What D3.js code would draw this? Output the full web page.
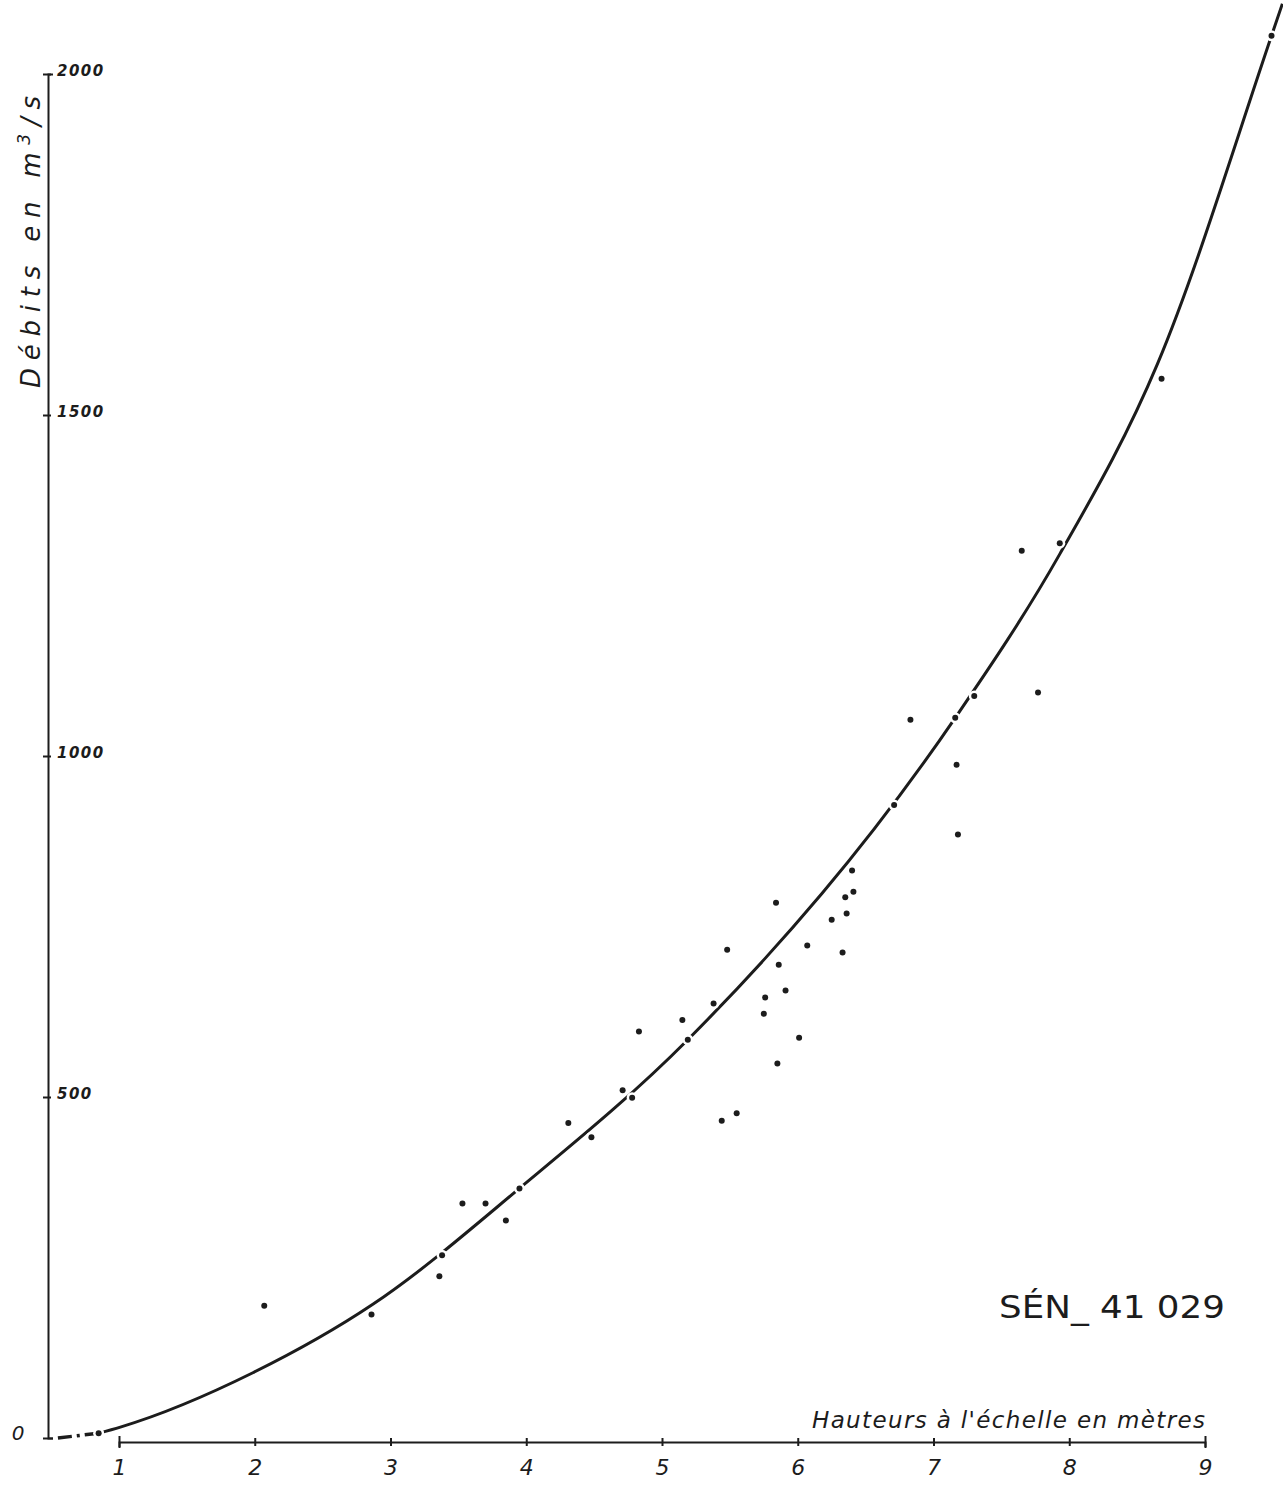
<!DOCTYPE html>
<html>
<head>
<meta charset="utf-8">
<script src="https://cdn.jsdelivr.net/npm/d3@7"></script>
<style>
    body { margin: 0; background: #fff; }
    svg { display: block; }
</style>
</head>
<body>
<svg id="chart-container" width="1283" height="1485"></svg>
<script>
// Gaugings: height on the staff (m) and measured discharge (m3/s)
const gaugeHeights = [0.85, 2.07, 2.86, 3.36, 3.38, 3.53, 3.70, 3.85, 3.95, 4.31, 4.48, 4.71, 4.78, 4.83,
    5.15, 5.19, 5.38, 5.44, 5.48, 5.55, 5.75, 5.76, 5.84, 5.85, 5.86, 5.91, 6.01, 6.07, 6.25, 6.33,
    6.35, 6.36, 6.40, 6.41, 6.71, 6.83, 7.16, 7.17, 7.18, 7.30, 7.65, 7.77, 7.93, 8.68, 9.49];
const gaugeFlows = [7, 194, 181, 237, 268, 344, 344, 319, 366, 462, 441, 510, 499, 596,
    613, 584, 637, 465, 716, 476, 622, 646, 785, 549, 694, 656, 587, 722, 760, 712,
    793, 769, 832, 801, 928, 1053, 1056, 987, 885, 1088, 1301, 1093, 1312, 1553, 2056];

// Rating curve
const curveHeights = [0.55, 0.85, 1.01, 1.99, 2.87, 3.95, 5.19, 7.16, 7.93, 8.65, 9.49, 9.57];
const curveFlows = [0, 7, 16, 96, 196, 366, 584, 1056, 1296, 1575, 2056, 2103];

const xTicks = [1, 2, 3, 4, 5, 6, 7, 8, 9];
const yTicks = [0, 500, 1000, 1500, 2000];

const svg = d3.select("#chart-container");
const ink = "#1c1c1c";
const letters = "'DejaVu Sans', sans-serif";

svg.append("rect").attr("width", 1283).attr("height", 1485).attr("fill", "#fff");

const xScale = d3.scaleLinear().domain([1, 9]).range([119, 1205]);
const yScale = d3.scaleLinear().domain([0, 2000]).range([1438, 74]);
const yAxisX = 48;
const xAxisY = 1442;

// x axis (starts at 1 m, does not meet the y axis)
const xAxis = svg.append("g")
        .attr("transform", `translate(0, ${xAxisY})`)
        .call(d3.axisBottom(xScale).tickValues(xTicks).tickSizeOuter(0).tickSize(5).tickPadding(12));
xAxis.select(".domain").attr("stroke", ink).attr("stroke-width", 2);
xAxis.selectAll(".tick line")
    .attr("y1", d => (d === 1 || d === 9) ? -6 : -4)
    .attr("y2", d => (d === 1 || d === 9) ? 6 : 4)
    .attr("stroke", ink).attr("stroke-width", 2);
xAxis.selectAll(".tick text")
    .style("font", `italic 22px ${letters}`)
    .attr("fill", ink);

xAxis.append("text")
    .attr("x", 1205)
    .attr("y", -14)
    .attr("text-anchor", "end")
    .attr("textLength", 393)
    .attr("lengthAdjust", "spacing")
    .attr("fill", ink)
    .style("font", `italic 23px ${letters}`)
    .text("Hauteurs à l'échelle  en  mètres");

// y axis with labels on the right of the line
const yAxis = svg.append("g")
        .attr("transform", `translate(${yAxisX}, 0)`)
        .call(d3.axisRight(yScale).tickValues(yTicks).tickFormat(d3.format("d"))
            .tickSizeOuter(0).tickSize(5).tickPadding(6));
yAxis.select(".domain").attr("stroke", ink).attr("stroke-width", 2);
yAxis.selectAll(".tick line")
    .attr("x1", -5).attr("x2", d => d === 0 ? 5 : 3)
    .attr("stroke", ink).attr("stroke-width", 2);
yAxis.selectAll(".tick text")
    .attr("x", d => d === 0 ? -22 : 9)
    .attr("dy", d => d === 0 ? "0.05em" : "0.1em")
    .attr("text-anchor", d => d === 0 ? "end" : "start")
    .style("font", d => d === 0 ? `italic 20px ${letters}` : `italic bold 15px ${letters}`)
    .style("letter-spacing", "1.5px")
    .attr("fill", ink);

const yTitle = svg.append("text")
    .attr("transform", "translate(40, 242) rotate(-90)")
    .attr("text-anchor", "middle")
    .attr("textLength", 292)
    .attr("lengthAdjust", "spacing")
    .attr("fill", ink)
    .style("font", `italic 26px ${letters}`);
yTitle.append("tspan").text("Débits  en  m");
yTitle.append("tspan").attr("dy", -10).style("font-size", "17px").text("3");
yTitle.append("tspan").attr("dy", 10).text("/s");

// station code
svg.append("text")
    .attr("x", 999)
    .attr("y", 1318)
    .attr("textLength", 226)
    .attr("lengthAdjust", "spacingAndGlyphs")
    .attr("fill", ink)
    .style("font", `32px ${letters}`)
    .text("SÉN_ 41 029");

// rating curve: dash-dot start, then smooth solid line
const curveData = curveHeights.map((h, i) => ({ h: h, q: curveFlows[i] }));
const lineStart = d3.line()
    .x(d => xScale(d.h))
    .y(d => yScale(d.q));
const lineCurve = d3.line()
    .x(d => xScale(d.h))
    .y(d => yScale(d.q))
    .curve(d3.curveMonotoneX);

svg.append("path")
    .datum(curveData.slice(0, 2))
    .attr("fill", "none")
    .attr("stroke", ink)
    .attr("stroke-width", 3.5)
    .attr("stroke-dasharray", "14,5,3,5")
    .attr("d", lineStart);

svg.append("path")
    .datum(curveData.slice(1))
    .attr("fill", "none")
    .attr("stroke", ink)
    .attr("stroke-width", 3)
    .attr("d", lineCurve);

// gauging points: a white halo first, so the curve is cut where a point sits on it
const gaugeData = gaugeHeights.map((h, i) => ({ h: h, q: gaugeFlows[i] }));
const points = svg.append("g");
points.selectAll("circle.halo")
    .data(gaugeData)
    .enter()
    .append("circle")
    .attr("class", "halo")
    .attr("cx", d => xScale(d.h))
    .attr("cy", d => yScale(d.q))
    .attr("r", 5.5)
    .attr("fill", "#fff");
points.selectAll("circle.dot")
    .data(gaugeData)
    .enter()
    .append("circle")
    .attr("class", "dot")
    .attr("cx", d => xScale(d.h))
    .attr("cy", d => yScale(d.q))
    .attr("r", 3)
    .attr("fill", ink);
</script>
</body>
</html>
